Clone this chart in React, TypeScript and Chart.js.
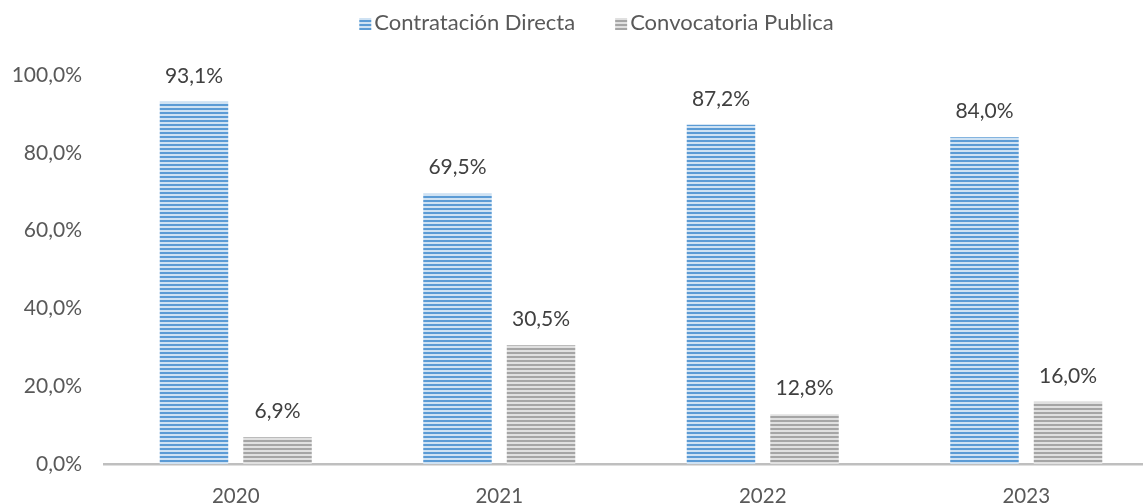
import React, { useEffect, useRef } from "react";
import { Chart, registerables } from "chart.js";

Chart.register(...registerables);

const categories = ["2020", "2021", "2022", "2023"];
const seriesNames = ["Contratación Directa", "Convocatoria Publica"];
const directa = [93.1, 69.5, 87.2, 84.0];
const publica = [6.9, 30.5, 12.8, 16.0];
const yTicks = [0, 20, 40, 60, 80, 100];

const FONT = "Lato";

function stripePattern(dark: string, light: string): CanvasPattern | string {
  const c = document.createElement("canvas");
  c.width = 4;
  c.height = 4;
  const g = c.getContext("2d");
  if (!g) return dark;
  g.fillStyle = light;
  g.fillRect(0, 0, 4, 4);
  g.fillStyle = dark;
  g.fillRect(0, 0, 4, 2);
  const p = g.createPattern(c, "repeat");
  return p || dark;
}

const fmt = (v: number) => v.toFixed(1).replace(".", ",") + "%";

const labelPlugin = {
  id: "barLabels",
  afterDatasetsDraw(chart: any) {
    const ctx = chart.ctx;
    ctx.save();
    ctx.font = `21px ${FONT}`;
    ctx.fillStyle = "#404040";
    ctx.textAlign = "center";
    ctx.textBaseline = "middle";
    chart.data.datasets.forEach((ds: any, i: number) => {
      const meta = chart.getDatasetMeta(i);
      meta.data.forEach((el: any, j: number) => {
        ctx.fillText(fmt(ds.data[j]), el.x, el.y - 26);
      });
    });
    ctx.restore();
  },
};

const legendPlugin = {
  id: "customLegend",
  afterDraw(chart: any) {
    const ctx = chart.ctx;
    ctx.save();
    ctx.font = `22px ${FONT}`;
    const box = 12;
    const gap = 3;
    const spacing = 40;
    const ds = chart.data.datasets;
    const widths = ds.map((d: any) => ctx.measureText(d.label).width);
    const total =
      widths.reduce((a: number, b: number) => a + b, 0) +
      ds.length * (box + gap) +
      (ds.length - 1) * spacing;
    let x = chart.width / 2 - total / 2;
    const boxTop = 18;
    const baseline = 30;
    ds.forEach((d: any, i: number) => {
      ctx.fillStyle = d.backgroundColor;
      ctx.fillRect(x, boxTop, box, box);
      x += box + gap;
      ctx.fillStyle = "#595959";
      ctx.textAlign = "left";
      ctx.textBaseline = "alphabetic";
      ctx.fillText(d.label, x, baseline);
      x += widths[i] + spacing;
    });
    ctx.restore();
  },
};

export default function App() {
  const ref = useRef<HTMLCanvasElement>(null);
  useEffect(() => {
    if (!ref.current) return;
    const blue = stripePattern("#5B9BD5", "#CFE2F3");
    const gray = stripePattern("#A5A5A5", "#E0E0E0");
    const chart = new Chart(ref.current, {
      type: "bar",
      data: {
        labels: categories,
        datasets: [
          {
            label: seriesNames[0],
            data: directa,
            backgroundColor: blue as any,
            borderWidth: 0,
            categoryPercentage: 0.634,
            barPercentage: 0.82,
          },
          {
            label: seriesNames[1],
            data: publica,
            backgroundColor: gray as any,
            borderWidth: 0,
            categoryPercentage: 0.634,
            barPercentage: 0.82,
          },
        ],
      },
      options: {
        animation: false,
        responsive: true,
        maintainAspectRatio: false,
        layout: { padding: { left: 0, right: 35, top: 75, bottom: 0 } },
        plugins: {
          legend: { display: false },
          tooltip: { enabled: false },
        },
        scales: {
          x: {
            grid: { display: false, drawTicks: false },
            border: { display: true, color: "#BFBFBF", width: 2.5 },
            ticks: {
              color: "#595959",
              font: { family: FONT, size: 20.5 },
              padding: 20,
            },
            afterFit(scale: any) {
              scale.height = 40;
            },
          },
          y: {
            min: 0,
            max: 100,
            afterBuildTicks(scale: any) {
              scale.ticks = yTicks.map((v) => ({ value: v }));
            },
            grid: { display: false, drawTicks: false },
            border: { display: false },
            ticks: {
              color: "#595959",
              font: { family: FONT, size: 21 },
              padding: 22,
              callback: (v: any) => fmt(Number(v)),
            },
            afterFit(scale: any) {
              scale.width = 104;
            },
          },
        },
      },
      plugins: [labelPlugin, legendPlugin],
    });
    return () => chart.destroy();
  }, []);
  return (
    <div
      style={{
        position: "absolute",
        left: 0,
        top: 0,
        width: 1143,
        height: 504,
        overflow: "hidden",
        background: "#fff",
      }}
    >
      <div style={{ position: "relative", width: 1193, height: 504 }}>
        <canvas ref={ref} />
      </div>
    </div>
  );
}
